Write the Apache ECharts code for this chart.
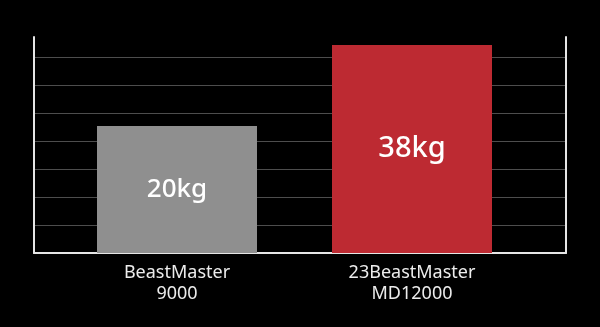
<!DOCTYPE html>
<html>
<head>
<meta charset="utf-8">
<script src="https://cdn.jsdelivr.net/npm/echarts@6/dist/echarts.min.js"></script>
<style>
html,body{margin:0;padding:0;background:#000;}
#c{width:600px;height:327px;}
</style>
</head>
<body>
<div id="c"></div>
<script>
// Data
var categories = ['BeastMaster\n9000', '23BeastMaster\nMD12000'];
var weightsKg = [20, 38];
var valueLabels = ['20kg', '38kg'];
// Drawn bar heights in grid-line units (the bars are not to scale)
var barHeights = [4.54, 7.43];
var barColors = ['#8f8f8f', '#bd2a32'];
var labelSizes = [26, 29];
var axisTop = 7.714;

var chart = echarts.init(document.getElementById('c'), null, {renderer: 'canvas'});
var font = '"Noto Sans", "Liberation Sans", sans-serif';

var barData = barHeights.map(function (h, i) {
  return {
    value: h,
    itemStyle: {color: barColors[i]},
    label: {fontSize: labelSizes[i], formatter: valueLabels[i]}
  };
});

chart.setOption({
  backgroundColor: '#000',
  animation: false,
  grid: [
    {left: 34, right: 34, top: 37, bottom: 74},
    {left: 59.5, right: 70.5, top: 37, bottom: 74}
  ],
  xAxis: [
    {gridIndex: 0, type: 'value', min: 0, max: 1, show: true,
      axisLine: {show: true, onZero: false, lineStyle: {color: '#e6e6e6', width: 2}},
      axisTick: {show: false}, axisLabel: {show: false}, splitLine: {show: false}},
    {gridIndex: 1, type: 'category', data: categories,
      axisLine: {show: false}, axisTick: {show: false},
      axisLabel: {color: '#ececec', fontSize: 18, lineHeight: 21, margin: 9, fontFamily: font}}
  ],
  yAxis: [
    {gridIndex: 0, type: 'value', min: 0, max: axisTop, interval: 1,
      axisLine: {show: true, lineStyle: {color: '#e6e6e6', width: 2}},
      axisTick: {show: false}, axisLabel: {show: false},
      splitLine: {show: true, showMinLine: false, showMaxLine: false, lineStyle: {color: '#4d4d4d', width: 1}}},
    {gridIndex: 0, type: 'value', position: 'right', min: 0, max: axisTop, interval: 1,
      axisLine: {show: true, lineStyle: {color: '#e6e6e6', width: 2}},
      axisTick: {show: false}, axisLabel: {show: false}, splitLine: {show: false}},
    {gridIndex: 1, type: 'value', min: 0, max: axisTop, show: false}
  ],
  series: [{
    type: 'bar',
    xAxisIndex: 1,
    yAxisIndex: 2,
    barWidth: 160,
    data: barData,
    label: {show: true, position: 'inside', color: '#ffffff', fontFamily: font, fontWeight: 500}
  }]
});
</script>
</body>
</html>
